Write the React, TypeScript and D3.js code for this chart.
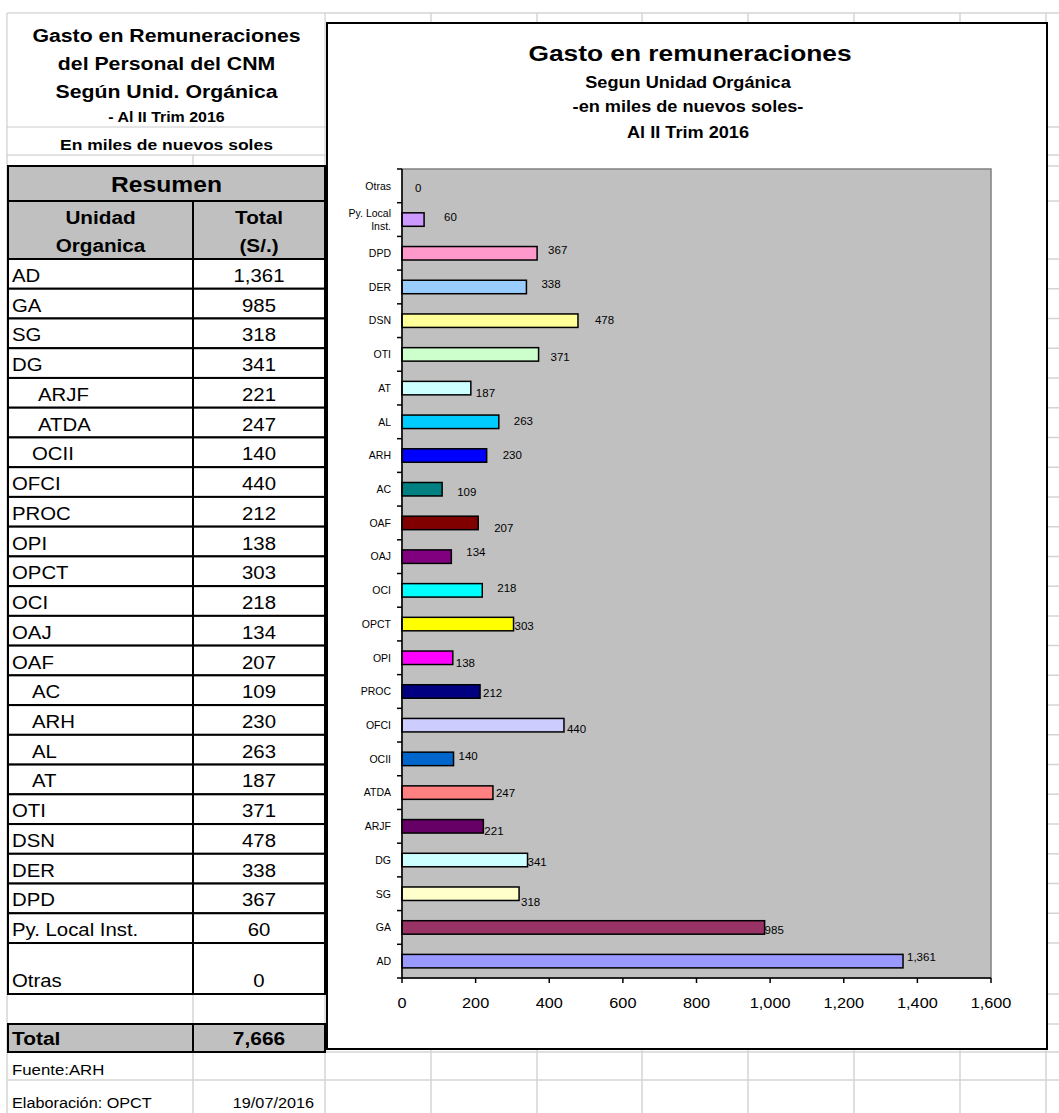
import React from "react";
import * as d3 from "d3";

// ---------- DATA ----------
const units = ["AD","GA","SG","DG","ARJF","ATDA","OCII","OFCI","PROC","OPI","OPCT","OCI","OAJ","OAF","AC","ARH","AL","AT","OTI","DSN","DER","DPD","Py. Local Inst.","Otras"];
const totals = [1361,985,318,341,221,247,140,440,212,138,303,218,134,207,109,230,263,187,371,478,338,367,60,0];
const indentLevel = [0,0,0,0,2,2,1,0,0,0,0,0,0,0,1,1,1,1,0,0,0,0,0,0];
const barColors = ["#9999FF","#993366","#FFFFCC","#CCFFFF","#660066","#FF8080","#0066CC","#CCCCFF","#000080","#FF00FF","#FFFF00","#00FFFF","#800080","#800000","#008080","#0000FF","#00CCFF","#CCFFFF","#CCFFCC","#FFFF99","#99CCFF","#FF99CC","#CC99FF","#FFCC99"];
// data label nudges [dx from bar end, dy from band centre]
const labelOffsets = [[4,-4],[0,2],[2,8],[0,2],[1,5],[3,0],[5,-3],[3,4],[3,1],[3,5],[1,2],[15,-2],[15,-5],[16,5],[15,3],[16,-1],[15,-1],[5,5],[12,2],[17,-1],[15,-3],[11,-3],[20,-3],[13,2]];
const xTicks = [0,200,400,600,800,1000,1200,1400,1600];
const totalLabel = "7,666";
const tableTitle = ["Gasto en Remuneraciones","del  Personal del CNM","Según Unid. Orgánica"];
const tableSubtitle = "- Al II Trim 2016";
const tableUnits = "En miles de nuevos soles";
const chartTitle = "Gasto en remuneraciones";
const chartSubtitles = ["Segun Unidad Orgánica","-en miles de nuevos soles-","Al II Trim 2016"];

const FONT = "'Liberation Sans', Arial, Helvetica, sans-serif";
const fmt = d3.format(",");

function Txt({ x, y, size, bold = false, anchor = "start", sx = 1, children }: any) {
  return (
    <text
      transform={`translate(${x},${y + 0.36 * size}) scale(${sx},1)`}
      fontSize={size}
      fontWeight={bold ? "bold" : "normal"}
      textAnchor={anchor}
      fontFamily={FONT}
      fill="#000"
    >
      {children}
    </text>
  );
}

export default function App() {
  const W = 1059, H = 1113;
  // spreadsheet grid
  const rowH = 29.74;
  const firstRow = 259;
  const rowTops = units.map((_, i) => firstRow + i * rowH);
  const otrasBottom = 994;
  const gridRows = [13, 127, 155, 166, 201, ...rowTops, otrasBottom, 1024, 1052, 1080];
  const gridCols = [7, 193, 325, 431, 537, 642, 748, 854, 960, 1046];
  const tL = 8, tM = 193, tR = 325;
  const cx = (tL + tR) / 2;
  const cB = (tM + tR) / 2;

  // chart
  const plot = { left: 402, right: 991, top: 169, bottom: 978 };
  const x = d3.scaleLinear().domain([0, 1600]).range([plot.left, plot.right]);
  const y = d3.scaleBand().domain([...units].reverse()).range([plot.top, plot.bottom]);
  const bw = y.bandwidth();
  const barH = bw * 0.4;

  return (
    <div style={{ position: "absolute", left: 0, top: 0 }}>
      <svg width={W} height={H} style={{ display: "block", background: "#fff" }}>
        {/* gridlines */}
        <g stroke="#d4d4d4" strokeWidth={1.5}>
          {gridRows.map((gy, i) => (
            <line key={"r" + i} x1={7} x2={W} y1={gy} y2={gy} />
          ))}
          {gridCols.map((gx, i) => (
            <line key={"c" + i} x1={gx} x2={gx} y1={13} y2={H} />
          ))}
        </g>
        {/* white cover for merged title cells */}
        <rect x={7.8} y={13.8} width={316.4} height={112.4} fill="#fff" />
        <rect x={7.8} y={127.8} width={316.4} height={26.4} fill="#fff" />

        {/* table title */}
        {tableTitle.map((t, i) => (
          <Txt key={i} x={cx} y={35 + i * 28} size={18.5} bold anchor="middle" sx={1.15}>{t}</Txt>
        ))}
        <Txt x={cx} y={117} size={14.5} bold anchor="middle" sx={1.1}>{tableSubtitle}</Txt>
        <Txt x={cx} y={144} size={15.5} bold anchor="middle" sx={1.13}>{tableUnits}</Txt>

        {/* Resumen box */}
        <rect x={tL} y={166} width={tR - tL} height={35} fill="#C0C0C0" stroke="#000" strokeWidth={2} />
        <Txt x={cx} y={184} size={22} bold anchor="middle" sx={1.12}>Resumen</Txt>
        <rect x={tL} y={201} width={tR - tL} height={firstRow - 201} fill="#C0C0C0" stroke="#000" strokeWidth={2} />
        <line x1={tM} x2={tM} y1={201} y2={firstRow} stroke="#000" strokeWidth={2} />
        <Txt x={(tL + tM) / 2} y={217} size={18.5} bold anchor="middle" sx={1.12}>Unidad</Txt>
        <Txt x={(tL + tM) / 2} y={245} size={18.5} bold anchor="middle" sx={1.12}>Organica</Txt>
        <Txt x={cB} y={217} size={18.5} bold anchor="middle" sx={1.12}>Total</Txt>
        <Txt x={cB} y={245} size={18.5} bold anchor="middle" sx={1.12}>(S/.)</Txt>

        {/* rows */}
        {units.map((u, i) => {
          const top = rowTops[i];
          const bottom = i === units.length - 1 ? otrasBottom : top + rowH;
          const ty = bottom - 13.5;
          const ix = 12 + (indentLevel[i] === 2 ? 26 : indentLevel[i] === 1 ? 20 : 0);
          return (
            <g key={u}>
              <rect x={tL} y={top} width={tR - tL} height={bottom - top} fill="#fff" stroke="#000" strokeWidth={2} />
              <line x1={tM} x2={tM} y1={top} y2={bottom} stroke="#000" strokeWidth={2} />
              <Txt x={ix} y={ty} size={18.5} sx={1.1}>{u}</Txt>
              <Txt x={cB} y={ty} size={18.5} anchor="middle" sx={1.1}>{fmt(totals[i])}</Txt>
            </g>
          );
        })}

        {/* total row */}
        <rect x={tL} y={1024} width={tR - tL} height={28} fill="#C0C0C0" stroke="#000" strokeWidth={2} />
        <line x1={tM} x2={tM} y1={1024} y2={1052} stroke="#000" strokeWidth={2} />
        <Txt x={12} y={1038} size={19} bold sx={1.1}>Total</Txt>
        <Txt x={cB} y={1038} size={19} bold anchor="middle" sx={1.1}>{totalLabel}</Txt>

        {/* footer */}
        <Txt x={12} y={1070} size={15} sx={1.12}>Fuente:ARH</Txt>
        <Txt x={12} y={1103} size={14.5} sx={1.12}>Elaboración: OPCT</Txt>
        <Txt x={314} y={1103} size={14.5} anchor="end" sx={1.12}>19/07/2016</Txt>

        {/* chart frame */}
        <rect x={327} y={23} width={720} height={1026} fill="#fff" stroke="#000" strokeWidth={2} />
        <Txt x={690} y={53} size={22.5} bold anchor="middle" sx={1.17}>{chartTitle}</Txt>
        {chartSubtitles.map((t, i) => (
          <Txt key={i} x={688} y={[82, 106, 132][i]} size={16.5} bold anchor="middle" sx={1.1}>{t}</Txt>
        ))}

        {/* plot area */}
        <rect x={plot.left} y={plot.top} width={plot.right - plot.left} height={plot.bottom - plot.top} fill="#C0C0C0" stroke="#808080" strokeWidth={1.5} />

        {/* bars */}
        {units.map((u, i) => {
          const by = (y(u) as number) + (bw - barH) / 2;
          const w = x(totals[i]) - x(0);
          return w > 0 ? (
            <rect key={u} x={x(0)} y={by} width={w} height={barH} fill={barColors[i]} stroke="#000" strokeWidth={1.5} />
          ) : null;
        })}

        {/* data labels */}
        {units.map((u, i) => {
          const yc = (y(u) as number) + bw / 2 + labelOffsets[i][1];
          return (
            <Txt key={u} x={x(totals[i]) + labelOffsets[i][0]} y={yc} size={11.5}>{fmt(totals[i])}</Txt>
          );
        })}

        {/* y axis */}
        <line x1={plot.left} x2={plot.left} y1={plot.top} y2={plot.bottom} stroke="#000" strokeWidth={1.5} />
        {[...y.domain().map((d) => y(d) as number), plot.bottom].map((ty, i) => (
          <line key={i} x1={plot.left - 5} x2={plot.left} y1={ty} y2={ty} stroke="#000" strokeWidth={1.5} />
        ))}
        {units.map((u) => {
          const yc = (y(u) as number) + bw / 2;
          const lines = u === "Py. Local Inst." ? ["Py. Local", "Inst."] : [u];
          return lines.map((l, j) => (
            <Txt key={u + j} x={391} y={yc + (lines.length === 1 ? 0 : (j === 0 ? -6 : 7))} size={10.5} anchor="end">{l}</Txt>
          ));
        })}

        {/* x axis */}
        <line x1={plot.left} x2={plot.right} y1={plot.bottom} y2={plot.bottom} stroke="#000" strokeWidth={1.5} />
        {xTicks.map((t) => (
          <g key={t}>
            <line x1={x(t)} x2={x(t)} y1={plot.bottom} y2={plot.bottom + 5} stroke="#000" strokeWidth={1.5} />
            <Txt x={x(t)} y={1002} size={15.5} anchor="middle" sx={1.05}>{fmt(t)}</Txt>
          </g>
        ))}
      </svg>
    </div>
  );
}
